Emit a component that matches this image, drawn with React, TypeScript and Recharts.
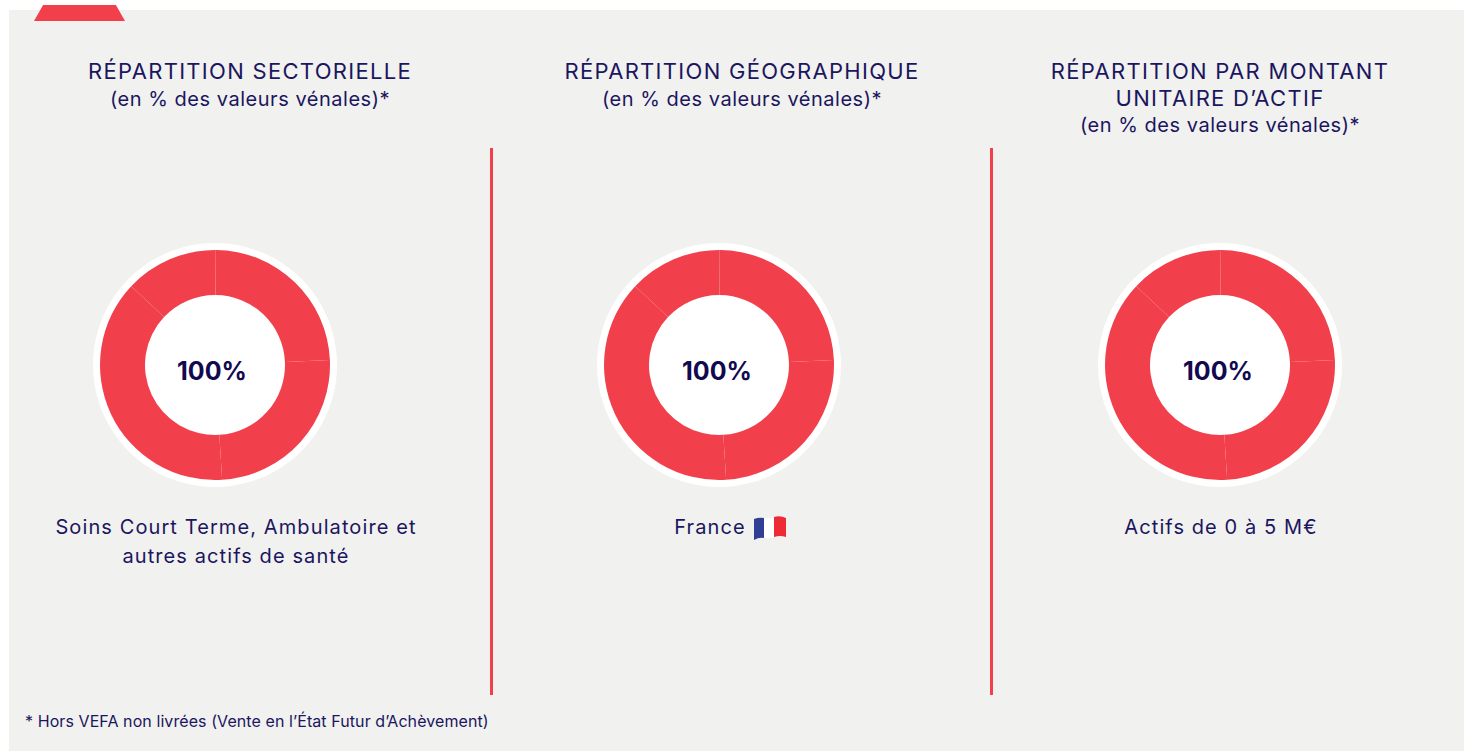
import React from "react";
import { PieChart, Pie, Cell } from "recharts";

const segments = [
  { name: "A", value: 24.2 },
  { name: "B", value: 24.7 },
  { name: "C", value: 38 },
  { name: "D", value: 13.1 },
];
const ring = [{ name: "ring", value: 100 }];
const centerLabel = "100%";
const footnote = "* Hors VEFA non livrées (Vente en l’État Futur d’Achèvement)";

const NAVY = "#1b1660";
const RED = "#f13f4c";
const FONT = "'Inter', 'Noto Sans', sans-serif";

const titles = [
  { cx: 250, lines: ["RÉPARTITION SECTORIELLE"], sub: "(en % des valeurs vénales)*", subY: 86 },
  { cx: 742, lines: ["RÉPARTITION GÉOGRAPHIQUE"], sub: "(en % des valeurs vénales)*", subY: 86 },
  { cx: 1220, lines: ["RÉPARTITION PAR MONTANT", "UNITAIRE D’ACTIF"], sub: "(en % des valeurs vénales)*", subY: 112 },
];
const donuts = [
  { cx: 215, textCx: 212 },
  { cx: 719, textCx: 717 },
  { cx: 1220, textCx: 1218 },
];
const captions = [
  { cx: 236, lines: ["Soins Court Terme, Ambulatoire et", "autres actifs de santé"] },
  { cx: 710, lines: ["France"] },
  { cx: 1221, lines: ["Actifs de 0 à 5 M€"] },
];
const dividers = [490, 990];

const textAt = (cx: number, y: number, extra: React.CSSProperties): React.CSSProperties => ({
  position: "absolute",
  left: cx - 300,
  top: y,
  width: 600,
  textAlign: "center",
  whiteSpace: "nowrap",
  fontFamily: FONT,
  color: NAVY,
  ...extra,
});

function Donut({ cx, textCx }: { cx: number; textCx: number }) {
  const size = 260;
  const cy = 365;
  return (
    <>
      <div style={{ position: "absolute", left: cx - size / 2, top: cy - size / 2 }}>
        <PieChart width={size} height={size} margin={{ top: 0, right: 0, bottom: 0, left: 0 }}>
          <Pie data={ring} dataKey="value" cx="50%" cy="50%" innerRadius={0} outerRadius={122} fill="#ffffff" stroke="none" isAnimationActive={false} />
          <Pie data={segments} dataKey="value" cx="50%" cy="50%" innerRadius={70} outerRadius={115} startAngle={89.6} endAngle={-270.4} stroke="none" isAnimationActive={false}>
            {segments.map((s) => (
              <Cell key={s.name} fill={RED} />
            ))}
          </Pie>
        </PieChart>
      </div>
      <div style={textAt(textCx, 353, { fontSize: 25, fontWeight: 700, lineHeight: "36px", color: "#12094f" })}>{centerLabel}</div>
    </>
  );
}

function Flag() {
  return (
    <svg width={34} height={26} viewBox="0 0 34 26" style={{ position: "absolute", left: 753, top: 515 }}>
      <path d="M1 4 Q6 2 11 3 L11 23 Q6 22 1 25 Z" fill="#2f3f94" />
      <path d="M11 3 Q16 4 21 2 L21 22 Q16 24 11 23 Z" fill="#ffffff" />
      <path d="M21 2 Q27 0 33 3 L33 22 Q27 20 21 22 Z" fill="#ee2a35" />
    </svg>
  );
}

export default function App() {
  return (
    <div style={{ position: "absolute", left: 0, top: 0, width: 1464, height: 751, background: "#ffffff", overflow: "hidden" }}>
      <div style={{ position: "absolute", left: 9, top: 10, width: 1455, height: 741, background: "#f1f1ef" }} />
      <div style={{ position: "absolute", left: 34, top: 5, width: 91, height: 16, background: RED, clipPath: "polygon(10% 0, 90% 0, 100% 100%, 0 100%)" }} />
      {dividers.map((x) => (
        <div key={x} style={{ position: "absolute", left: x, top: 148, width: 3, height: 547, background: RED }} />
      ))}
      {titles.map((t) => (
        <React.Fragment key={t.cx}>
          {t.lines.map((l, i) => (
            <div key={l} style={textAt(t.cx, 57 + i * 27, { fontSize: 22, lineHeight: "28px", letterSpacing: 1.3 })}>{l}</div>
          ))}
          <div style={textAt(t.cx, t.subY, { fontSize: 20, lineHeight: "26px", letterSpacing: 0.53 })}>{t.sub}</div>
        </React.Fragment>
      ))}
      {donuts.map((d) => (
        <Donut key={d.cx} cx={d.cx} textCx={d.textCx} />
      ))}
      {captions.map((c) => (
        <React.Fragment key={c.cx}>
          {c.lines.map((l, i) => (
            <div key={l} style={textAt(c.cx, 513 + i * 29, { fontSize: 20, lineHeight: "29px", letterSpacing: 1.1 })}>{l}</div>
          ))}
        </React.Fragment>
      ))}
      <Flag />
      <div style={{ ...textAt(0, 711, { fontSize: 16, lineHeight: "20px", letterSpacing: 0.08 }), left: 25, width: "auto", textAlign: "left" }}>{footnote}</div>
    </div>
  );
}
